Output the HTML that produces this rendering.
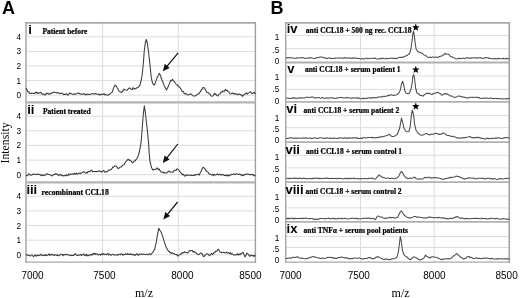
<!DOCTYPE html>
<html><head><meta charset="utf-8"><style>
html,body{margin:0;padding:0;background:#fff;width:520px;height:298px;overflow:hidden;}
svg{display:block;will-change:transform;}
</style></head><body>
<svg width="520" height="298" viewBox="0 0 520 298">
<rect width="520" height="298" fill="#fff"/>
<line x1="26.0" y1="36.8" x2="255.4" y2="36.8" stroke="#dcdcdc" stroke-width="1"/>
<line x1="26.0" y1="51.4" x2="255.4" y2="51.4" stroke="#dcdcdc" stroke-width="1"/>
<line x1="26.0" y1="66.0" x2="255.4" y2="66.0" stroke="#dcdcdc" stroke-width="1"/>
<line x1="26.0" y1="80.6" x2="255.4" y2="80.6" stroke="#dcdcdc" stroke-width="1"/>
<line x1="26.0" y1="95.2" x2="255.4" y2="95.2" stroke="#dcdcdc" stroke-width="1"/>
<line x1="26.0" y1="116.2" x2="255.4" y2="116.2" stroke="#dcdcdc" stroke-width="1"/>
<line x1="26.0" y1="130.8" x2="255.4" y2="130.8" stroke="#dcdcdc" stroke-width="1"/>
<line x1="26.0" y1="145.4" x2="255.4" y2="145.4" stroke="#dcdcdc" stroke-width="1"/>
<line x1="26.0" y1="160.1" x2="255.4" y2="160.1" stroke="#dcdcdc" stroke-width="1"/>
<line x1="26.0" y1="174.7" x2="255.4" y2="174.7" stroke="#dcdcdc" stroke-width="1"/>
<line x1="26.0" y1="196.3" x2="255.4" y2="196.3" stroke="#dcdcdc" stroke-width="1"/>
<line x1="26.0" y1="210.9" x2="255.4" y2="210.9" stroke="#dcdcdc" stroke-width="1"/>
<line x1="26.0" y1="225.5" x2="255.4" y2="225.5" stroke="#dcdcdc" stroke-width="1"/>
<line x1="26.0" y1="240.2" x2="255.4" y2="240.2" stroke="#dcdcdc" stroke-width="1"/>
<line x1="26.0" y1="254.8" x2="255.4" y2="254.8" stroke="#dcdcdc" stroke-width="1"/>
<line x1="102.6" y1="22.85" x2="102.6" y2="262.2" stroke="#dcdcdc" stroke-width="1"/>
<line x1="178.3" y1="22.85" x2="178.3" y2="262.2" stroke="#dcdcdc" stroke-width="1"/>
<line x1="285.7" y1="35.6" x2="509.3" y2="35.6" stroke="#dcdcdc" stroke-width="1"/>
<line x1="285.7" y1="48.7" x2="509.3" y2="48.7" stroke="#dcdcdc" stroke-width="1"/>
<line x1="285.7" y1="76.0" x2="509.3" y2="76.0" stroke="#dcdcdc" stroke-width="1"/>
<line x1="285.7" y1="89.4" x2="509.3" y2="89.4" stroke="#dcdcdc" stroke-width="1"/>
<line x1="285.7" y1="115.6" x2="509.3" y2="115.6" stroke="#dcdcdc" stroke-width="1"/>
<line x1="285.7" y1="127.7" x2="509.3" y2="127.7" stroke="#dcdcdc" stroke-width="1"/>
<line x1="285.7" y1="155.3" x2="509.3" y2="155.3" stroke="#dcdcdc" stroke-width="1"/>
<line x1="285.7" y1="167.9" x2="509.3" y2="167.9" stroke="#dcdcdc" stroke-width="1"/>
<line x1="285.7" y1="196.1" x2="509.3" y2="196.1" stroke="#dcdcdc" stroke-width="1"/>
<line x1="285.7" y1="207.9" x2="509.3" y2="207.9" stroke="#dcdcdc" stroke-width="1"/>
<line x1="285.7" y1="236.5" x2="509.3" y2="236.5" stroke="#dcdcdc" stroke-width="1"/>
<line x1="285.7" y1="247.5" x2="509.3" y2="247.5" stroke="#dcdcdc" stroke-width="1"/>
<line x1="360.5" y1="22.85" x2="360.5" y2="262.2" stroke="#dcdcdc" stroke-width="1"/>
<line x1="434.2" y1="22.85" x2="434.2" y2="262.2" stroke="#dcdcdc" stroke-width="1"/>
<rect x="25" y="22" width="2" height="240.8" fill="#bcbcbc"/>
<line x1="25" y1="22.85" x2="255.4" y2="22.85" stroke="#a8a8a8" stroke-width="1.6"/>
<line x1="255.4" y1="22" x2="255.4" y2="262.8" stroke="#a0a0a0" stroke-width="1.4"/>
<line x1="25" y1="262.2" x2="255.4" y2="262.2" stroke="#a8a8a8" stroke-width="1.2"/>
<line x1="27" y1="102.3" x2="255.4" y2="102.3" stroke="#b4b4b4" stroke-width="2.2"/>
<line x1="27" y1="182.4" x2="255.4" y2="182.4" stroke="#b4b4b4" stroke-width="2.2"/>
<line x1="285.7" y1="22" x2="285.7" y2="262.8" stroke="#a4a4a4" stroke-width="1.4"/>
<line x1="509.3" y1="22" x2="509.3" y2="262.8" stroke="#a0a0a0" stroke-width="1.6"/>
<line x1="285.7" y1="22.85" x2="509.3" y2="22.85" stroke="#a8a8a8" stroke-width="1.6"/>
<line x1="285.7" y1="262.2" x2="509.3" y2="262.2" stroke="#a8a8a8" stroke-width="1.2"/>
<line x1="285.7" y1="62.5" x2="509.3" y2="62.5" stroke="#b0b0b0" stroke-width="1.8"/>
<line x1="285.7" y1="101.9" x2="509.3" y2="101.9" stroke="#b0b0b0" stroke-width="1.8"/>
<line x1="285.7" y1="142.2" x2="509.3" y2="142.2" stroke="#b0b0b0" stroke-width="1.8"/>
<line x1="285.7" y1="182.2" x2="509.3" y2="182.2" stroke="#b0b0b0" stroke-width="1.8"/>
<line x1="285.7" y1="221.9" x2="509.3" y2="221.9" stroke="#b0b0b0" stroke-width="1.8"/>
<path d="M26.0,88.0 L27.0,90.0 L28.0,92.0 L28.8,91.7 L29.5,93.4 L30.2,93.6 L31.0,93.5 L31.7,93.0 L32.4,93.3 L33.1,93.2 L33.9,93.5 L34.6,93.7 L35.3,92.3 L36.0,93.0 L36.8,92.1 L37.6,93.6 L38.4,92.8 L39.2,93.3 L40.0,92.8 L40.8,92.2 L41.5,93.4 L42.2,94.3 L43.0,94.3 L43.8,93.7 L44.6,95.0 L45.4,94.9 L46.2,93.2 L47.0,94.0 L47.8,93.0 L48.6,93.9 L49.4,94.5 L50.2,93.4 L51.0,93.5 L51.8,92.8 L52.6,93.0 L53.4,92.0 L54.2,92.2 L55.0,92.5 L55.8,92.6 L56.6,92.9 L57.4,92.6 L58.2,92.8 L59.0,93.5 L59.8,93.1 L60.6,93.6 L61.4,93.4 L62.2,93.0 L63.0,94.0 L63.8,94.7 L64.6,94.2 L65.4,94.5 L66.2,93.6 L67.0,94.3 L67.8,95.1 L68.6,94.7 L69.4,93.1 L70.2,93.3 L71.0,93.5 L71.8,94.0 L72.6,94.1 L73.4,94.6 L74.2,93.8 L75.0,94.0 L75.8,94.4 L76.6,93.9 L77.4,93.0 L78.2,93.4 L79.0,93.0 L79.8,94.0 L80.6,94.2 L81.4,93.8 L82.2,94.2 L83.0,94.3 L83.8,93.5 L84.6,93.9 L85.4,95.0 L86.2,94.4 L87.0,94.6 L87.8,93.9 L88.6,94.5 L89.4,94.6 L90.2,94.5 L91.0,94.0 L91.8,93.7 L92.6,93.7 L93.4,93.7 L94.2,94.1 L95.0,93.5 L95.8,93.8 L96.5,93.8 L97.2,94.2 L98.0,94.5 L99.0,94.0 L100.0,95.2 L101.0,94.0 L102.0,94.6 L103.0,94.5 L104.0,93.6 L105.0,95.0 L106.0,94.6 L107.0,95.1 L108.0,95.2 L109.0,94.5 L110.0,94.3 L111.0,92.8 L112.0,92.6 L112.8,90.3 L113.5,88.1 L114.2,86.6 L115.0,85.1 L115.8,85.9 L116.5,86.6 L117.2,87.8 L118.0,89.1 L119.0,91.3 L120.0,91.6 L121.0,92.4 L122.0,92.1 L123.0,90.6 L124.0,89.1 L125.0,89.7 L126.0,90.1 L127.0,90.3 L128.0,89.1 L129.0,88.1 L130.0,88.1 L130.8,88.9 L131.5,89.6 L132.2,89.5 L133.0,87.6 L133.8,88.5 L134.5,89.1 L135.2,88.8 L136.0,88.6 L137.0,87.7 L138.0,87.6 L139.0,86.4 L140.0,85.1 L141.0,81.1 L142.0,76.0 L142.8,69.0 L143.6,60.0 L144.3,50.5 L145.3,43.0 L146.3,39.4 L147.2,42.5 L148.4,50.5 L149.3,59.0 L150.2,67.0 L151.2,77.0 L152.3,82.5 L153.7,85.1 L154.5,84.8 L155.3,82.8 L156.2,80.4 L157.0,78.0 L157.7,76.4 L158.5,74.9 L159.2,73.3 L160.5,75.5 L161.2,77.8 L162.0,80.0 L163.0,82.5 L164.0,85.1 L164.8,86.8 L165.7,88.4 L166.5,90.1 L167.2,88.6 L168.0,87.1 L169.0,84.6 L170.0,82.1 L170.8,80.2 L171.7,80.8 L172.5,79.3 L173.5,81.1 L174.5,81.6 L175.3,83.3 L176.2,84.1 L177.0,84.6 L177.8,85.9 L178.5,86.1 L179.2,87.0 L180.0,87.6 L181.0,89.3 L182.0,91.1 L182.8,91.6 L183.5,91.5 L184.2,93.7 L185.0,93.6 L185.8,94.1 L186.5,93.7 L187.2,94.7 L188.0,95.0 L188.8,94.7 L189.5,94.2 L190.2,94.0 L191.0,94.0 L192.0,94.9 L193.0,95.7 L194.0,96.1 L195.0,96.0 L196.0,95.5 L197.0,94.6 L198.0,94.0 L199.0,93.6 L200.0,92.1 L201.0,90.6 L202.0,89.1 L203.0,87.6 L204.0,87.5 L205.0,89.1 L206.0,90.8 L207.0,92.6 L207.8,92.5 L208.5,92.7 L209.2,93.9 L210.0,94.1 L211.0,95.9 L212.0,96.4 L212.8,95.9 L213.7,94.9 L214.5,93.3 L215.2,94.4 L215.9,93.9 L216.6,95.6 L217.3,95.8 L218.0,96.0 L219.0,94.2 L220.0,94.0 L221.0,92.1 L222.0,92.1 L223.0,90.9 L224.0,91.6 L224.8,90.4 L225.5,89.2 L226.3,90.5 L227.2,90.3 L228.0,91.6 L228.8,91.7 L229.7,93.4 L230.5,94.0 L231.3,93.6 L232.2,93.0 L233.0,93.7 L233.8,93.2 L234.5,94.1 L235.2,93.5 L236.0,94.3 L236.8,93.9 L237.6,94.7 L238.4,94.2 L239.2,94.0 L240.0,94.3 L240.8,95.0 L241.7,94.8 L242.5,96.4 L243.3,95.4 L244.2,94.6 L245.0,94.0 L245.8,93.2 L246.5,92.9 L247.2,94.2 L248.0,93.3 L249.0,92.6 L250.0,91.8 L251.0,92.2 L252.0,93.7 L253.0,93.1 L254.0,92.1 L254.8,93.4 L255.5,93.5" fill="none" stroke="#3a3a3a" stroke-width="1.05" stroke-linejoin="round"/>
<path d="M26.0,174.9 L26.8,175.7 L27.6,175.7 L28.4,173.9 L29.2,174.0 L30.0,174.7 L30.8,175.2 L31.6,174.9 L32.4,174.7 L33.2,173.9 L34.0,174.2 L34.8,174.5 L35.6,174.5 L36.4,174.5 L37.2,173.8 L38.0,174.5 L38.8,174.4 L39.6,174.4 L40.4,175.0 L41.2,175.6 L42.0,174.7 L42.8,175.7 L43.5,175.1 L44.2,175.1 L45.0,175.4 L45.8,174.7 L46.5,173.9 L47.2,173.6 L48.0,174.2 L48.8,174.4 L49.5,174.5 L50.2,174.9 L51.0,175.4 L51.8,176.0 L52.6,175.1 L53.4,175.0 L54.2,174.2 L55.0,174.5 L55.7,173.6 L56.4,174.2 L57.1,173.9 L57.9,174.6 L58.6,175.6 L59.3,175.0 L60.0,174.7 L60.7,174.2 L61.4,175.6 L62.1,175.6 L62.9,175.5 L63.6,176.0 L64.3,175.8 L65.0,175.4 L65.7,175.8 L66.4,174.8 L67.1,175.8 L67.9,175.6 L68.6,173.9 L69.3,174.9 L70.0,174.2 L70.7,174.5 L71.4,173.9 L72.1,174.0 L72.9,173.8 L73.6,174.5 L74.3,173.6 L75.0,173.5 L75.7,174.1 L76.4,173.1 L77.1,174.1 L77.9,174.0 L78.6,173.1 L79.3,173.3 L80.0,173.1 L80.8,173.6 L81.5,173.0 L82.2,172.3 L83.0,172.1 L83.8,171.8 L84.5,172.3 L85.2,173.2 L86.0,173.1 L86.8,172.0 L87.5,173.0 L88.2,171.4 L89.0,171.4 L90.0,171.6 L91.0,170.2 L91.8,170.1 L92.5,171.7 L93.2,171.5 L94.0,171.4 L94.8,171.4 L95.5,171.4 L96.2,171.7 L97.0,171.4 L97.8,171.6 L98.5,171.0 L99.2,170.8 L100.0,171.4 L100.8,171.3 L101.5,172.1 L102.2,171.4 L103.0,171.1 L103.8,170.4 L104.5,172.0 L105.2,171.9 L106.0,171.6 L107.0,172.0 L108.0,170.9 L109.0,169.8 L110.0,169.9 L111.0,169.7 L112.0,168.6 L112.8,166.9 L113.7,167.2 L114.5,166.1 L115.3,166.0 L116.2,166.2 L117.0,167.1 L118.0,168.4 L119.0,168.3 L120.0,167.0 L121.0,167.1 L122.0,166.1 L123.0,165.1 L124.0,164.8 L125.0,163.1 L126.0,161.4 L127.0,160.6 L127.8,159.4 L128.5,159.3 L129.2,160.4 L130.0,160.1 L130.8,160.9 L131.5,161.9 L132.2,162.7 L133.0,162.6 L134.0,161.0 L135.0,161.1 L136.0,159.6 L137.0,158.6 L137.8,156.8 L138.5,155.0 L139.5,151.0 L140.5,146.0 L141.3,140.0 L142.2,128.8 L143.2,115.0 L144.3,105.8 L145.5,114.0 L146.2,120.5 L147.0,127.0 L148.0,137.0 L148.6,143.0 L149.2,153.4 L150.0,161.5 L150.8,164.6 L151.5,167.6 L152.2,168.9 L153.0,170.2 L154.0,169.3 L155.0,169.6 L155.8,169.5 L156.7,167.9 L157.5,168.2 L158.3,169.9 L159.2,168.9 L160.0,170.6 L161.0,171.9 L162.0,172.3 L163.0,171.9 L164.0,173.3 L165.0,172.6 L166.0,172.9 L167.0,172.8 L168.0,171.6 L168.8,171.0 L169.5,171.2 L170.2,172.3 L171.0,172.0 L172.0,171.9 L173.0,172.3 L174.0,170.4 L175.0,170.2 L176.0,170.5 L177.0,168.9 L177.8,169.1 L178.7,169.8 L179.5,171.6 L180.3,172.0 L181.2,173.3 L182.0,173.8 L182.8,174.9 L183.5,174.3 L184.2,175.4 L185.0,176.3 L185.8,175.0 L186.5,175.4 L187.2,175.5 L188.0,174.6 L188.8,175.1 L189.5,175.5 L190.2,175.3 L191.0,174.9 L191.8,175.7 L192.5,175.5 L193.2,175.2 L194.0,175.4 L194.8,174.7 L195.5,175.3 L196.2,174.5 L197.0,174.6 L198.0,174.1 L199.0,175.2 L200.0,173.3 L201.0,171.5 L202.0,169.3 L203.0,167.2 L204.0,167.9 L205.0,168.7 L206.0,170.8 L207.0,171.5 L207.8,171.7 L208.7,173.5 L209.5,174.2 L210.3,174.2 L211.2,174.7 L212.0,174.9 L212.8,174.2 L213.5,175.8 L214.2,174.4 L215.0,174.9 L215.8,175.0 L216.5,174.6 L217.2,173.8 L218.0,174.6 L218.8,174.9 L219.5,174.2 L220.2,174.2 L221.0,175.2 L221.8,174.4 L222.5,174.7 L223.2,174.6 L224.0,175.4 L224.8,175.5 L225.5,175.2 L226.2,175.9 L227.0,174.9 L227.8,175.8 L228.5,176.1 L229.2,174.8 L230.0,175.4 L230.8,175.0 L231.6,174.3 L232.4,174.6 L233.2,174.4 L234.0,173.8 L234.8,174.5 L235.6,174.4 L236.4,173.6 L237.2,174.0 L238.0,174.2 L238.8,174.5 L239.6,173.9 L240.4,174.2 L241.2,175.2 L242.0,175.7 L242.8,174.7 L243.6,175.7 L244.4,174.5 L245.2,174.1 L246.0,174.6 L246.8,174.0 L247.6,174.1 L248.4,174.1 L249.2,174.6 L250.0,174.6 L250.8,174.6 L251.6,174.4 L252.4,175.0 L253.1,174.3 L253.9,175.7 L254.7,175.8 L255.5,175.0" fill="none" stroke="#3a3a3a" stroke-width="1.05" stroke-linejoin="round"/>
<path d="M26.0,255.1 L26.8,254.7 L27.5,255.3 L28.2,255.0 L29.0,255.3 L29.8,255.7 L30.6,255.9 L31.4,255.0 L32.2,255.0 L33.0,256.1 L33.8,256.6 L34.6,255.3 L35.4,255.1 L36.2,256.3 L37.0,255.2 L37.7,255.1 L38.4,255.8 L39.1,255.0 L39.9,255.3 L40.6,254.3 L41.3,255.2 L42.0,254.9 L42.7,255.7 L43.4,255.1 L44.1,255.5 L44.9,255.5 L45.6,254.4 L46.3,255.7 L47.0,255.3 L47.7,255.3 L48.4,254.6 L49.1,253.9 L49.9,255.4 L50.6,254.5 L51.3,254.8 L52.0,254.2 L52.8,255.1 L53.6,254.9 L54.4,255.5 L55.2,254.6 L56.0,255.0 L56.8,255.6 L57.6,254.9 L58.4,255.8 L59.2,255.7 L60.0,255.0 L60.7,254.2 L61.4,254.2 L62.1,254.3 L62.9,255.7 L63.6,254.6 L64.3,254.9 L65.0,254.6 L65.7,254.3 L66.4,254.8 L67.1,254.6 L67.9,254.6 L68.6,255.1 L69.3,255.2 L70.0,255.1 L70.7,255.7 L71.4,255.2 L72.1,255.5 L72.9,255.3 L73.6,255.4 L74.3,254.7 L75.0,254.2 L75.7,253.7 L76.4,255.1 L77.1,255.4 L77.9,255.4 L78.6,254.8 L79.3,255.2 L80.0,254.9 L80.7,254.3 L81.4,255.5 L82.1,255.0 L82.9,254.4 L83.6,253.9 L84.3,255.4 L85.0,254.7 L85.8,255.8 L86.6,254.3 L87.4,255.9 L88.2,255.3 L89.0,255.7 L89.8,254.7 L90.5,254.6 L91.2,255.1 L92.0,254.2 L92.7,254.9 L93.4,253.3 L94.1,254.3 L94.9,253.2 L95.6,254.5 L96.3,253.7 L97.0,254.0 L97.8,254.8 L98.5,255.0 L99.2,254.2 L100.0,254.2 L100.7,255.2 L101.4,254.0 L102.1,253.6 L102.9,254.6 L103.6,253.6 L104.3,254.0 L105.0,254.6 L105.7,254.4 L106.4,254.7 L107.1,253.8 L107.9,253.6 L108.6,255.1 L109.3,254.0 L110.0,254.3 L110.7,255.2 L111.4,255.2 L112.1,254.3 L112.9,254.5 L113.6,254.7 L114.3,255.0 L115.0,254.8 L115.7,254.9 L116.4,254.7 L117.1,254.8 L117.9,255.3 L118.6,254.4 L119.3,254.2 L120.0,254.2 L120.7,254.7 L121.4,253.8 L122.1,254.0 L122.9,255.3 L123.6,254.5 L124.3,254.5 L125.0,254.5 L125.7,253.5 L126.4,254.3 L127.1,254.5 L127.9,253.4 L128.6,254.5 L129.3,254.5 L130.0,254.2 L130.7,253.5 L131.4,254.6 L132.1,254.4 L132.9,254.9 L133.6,254.4 L134.3,255.2 L135.0,254.9 L135.7,255.3 L136.4,253.8 L137.1,253.8 L137.9,254.9 L138.6,255.4 L139.3,253.9 L140.0,254.3 L140.7,254.2 L141.4,254.5 L142.1,254.0 L142.9,254.2 L143.6,254.1 L144.3,254.2 L145.0,254.5 L145.8,254.7 L146.6,254.1 L147.4,254.2 L148.2,254.9 L149.0,254.4 L149.9,253.6 L150.8,254.6 L151.6,253.8 L152.3,252.8 L153.1,252.2 L153.8,250.4 L154.6,249.7 L155.3,246.6 L156.0,243.5 L156.8,238.9 L157.5,234.3 L158.8,228.2 L160.0,230.5 L160.8,231.7 L161.5,232.8 L162.2,235.1 L163.0,237.4 L163.8,240.1 L164.6,242.8 L165.4,245.1 L166.2,247.4 L167.0,248.7 L167.7,249.9 L168.5,251.2 L169.2,251.2 L170.0,252.9 L170.8,252.4 L171.5,253.5 L172.3,252.9 L173.2,253.4 L174.0,253.5 L175.0,254.4 L176.0,254.6 L177.0,254.6 L178.0,256.2 L179.0,255.1 L180.0,254.6 L180.8,253.7 L181.5,254.1 L182.2,252.8 L183.0,252.3 L183.8,253.0 L184.6,251.8 L185.4,252.2 L186.2,252.8 L187.0,252.6 L187.8,253.0 L188.5,251.8 L189.2,251.0 L190.0,250.5 L190.8,250.9 L191.5,250.5 L192.2,250.3 L192.9,251.8 L193.6,252.2 L194.3,251.3 L195.0,252.3 L195.8,252.3 L196.6,253.8 L197.4,253.9 L198.2,254.7 L199.0,254.6 L200.0,253.5 L201.0,253.0 L201.8,253.2 L202.5,254.4 L203.2,256.3 L204.0,256.6 L204.8,255.5 L205.5,254.9 L206.2,254.3 L207.0,253.8 L207.8,254.0 L208.5,254.4 L209.2,255.8 L210.0,255.4 L210.8,254.2 L211.6,253.3 L212.4,254.6 L213.2,253.9 L214.0,252.6 L214.8,252.8 L215.6,251.1 L216.4,251.4 L217.2,250.7 L218.0,249.2 L218.8,249.4 L219.5,251.2 L220.2,252.2 L221.0,252.3 L221.8,252.7 L222.6,252.6 L223.4,252.3 L224.2,252.6 L225.0,253.0 L225.8,252.5 L226.6,252.2 L227.4,253.2 L228.2,252.6 L229.0,253.0 L229.8,253.8 L230.5,252.5 L231.2,254.4 L232.0,253.8 L232.8,254.3 L233.6,254.9 L234.4,255.0 L235.2,255.2 L236.0,254.6 L236.8,254.7 L237.6,253.7 L238.4,255.1 L239.2,254.0 L240.0,254.6 L240.8,253.6 L241.5,253.8 L242.2,252.9 L243.0,252.3 L244.0,254.6 L245.0,256.9 L246.0,254.9 L247.0,253.0 L248.0,254.0 L249.0,255.4 L249.8,256.3 L250.5,255.8 L251.2,255.3 L252.0,255.7 L252.7,255.2 L253.4,256.3 L254.1,255.5 L254.8,256.0 L255.5,255.4" fill="none" stroke="#3a3a3a" stroke-width="1.05" stroke-linejoin="round"/>
<path d="M286.0,58.0 L287.0,57.7 L288.0,57.6 L289.0,57.9 L290.0,57.7 L291.0,57.6 L292.0,58.0 L293.0,57.9 L294.0,58.4 L295.0,58.3 L296.0,58.3 L297.0,57.7 L298.0,58.0 L299.0,58.0 L300.0,57.8 L301.0,57.7 L302.0,57.6 L303.0,57.7 L304.0,58.0 L305.0,58.4 L306.0,58.3 L307.0,58.3 L308.0,58.3 L309.0,57.7 L310.0,58.0 L311.0,57.8 L312.0,58.1 L313.0,58.2 L314.0,58.4 L315.0,58.4 L316.0,58.0 L317.0,57.4 L318.0,57.7 L319.0,57.5 L320.0,57.1 L321.0,56.9 L322.0,56.9 L323.0,57.6 L324.0,58.0 L325.0,57.6 L326.0,58.5 L327.0,58.4 L328.0,58.1 L329.0,57.9 L330.0,58.1 L331.0,58.5 L332.0,58.2 L333.0,58.5 L334.0,58.4 L335.0,58.1 L336.0,58.1 L337.0,58.0 L338.0,58.2 L339.0,58.0 L340.0,57.8 L341.0,57.9 L342.0,58.1 L343.0,58.4 L344.0,57.6 L345.0,57.6 L346.0,58.2 L347.0,57.9 L348.0,58.1 L349.0,58.1 L350.0,58.1 L351.0,57.9 L352.0,58.6 L353.0,57.8 L354.0,58.1 L355.0,58.1 L356.0,58.0 L357.0,58.6 L358.0,58.3 L359.0,58.5 L360.0,58.8 L361.0,59.0 L362.0,58.6 L363.0,58.8 L364.0,59.1 L365.0,58.3 L366.0,58.2 L367.0,58.3 L368.0,58.8 L369.0,58.6 L370.0,58.5 L371.0,58.2 L372.0,58.3 L373.0,58.2 L374.0,58.5 L375.0,58.0 L376.0,58.7 L377.0,58.9 L378.0,59.0 L379.0,58.7 L380.0,58.5 L381.0,58.9 L382.0,58.0 L383.0,58.2 L384.0,58.9 L385.0,58.7 L386.0,58.3 L387.0,58.8 L388.0,58.5 L389.0,58.6 L390.0,58.3 L391.0,58.2 L392.0,58.1 L393.0,58.4 L394.0,58.2 L395.0,58.6 L396.0,58.3 L397.0,58.7 L398.0,57.9 L399.0,57.4 L400.0,57.3 L401.0,57.6 L402.0,57.0 L403.0,57.4 L404.0,56.8 L405.0,56.3 L406.1,55.8 L407.1,55.6 L408.3,54.3 L409.5,53.8 L410.9,49.0 L411.9,41.7 L412.9,33.2 L413.5,31.4 L414.3,35.7 L415.3,44.1 L416.1,49.0 L417.3,51.1 L418.3,52.1 L419.4,52.0 L420.4,52.6 L421.6,53.1 L422.8,53.8 L424.0,55.0 L425.2,55.3 L426.4,56.1 L427.6,57.2 L428.8,57.5 L430.0,57.1 L431.2,57.6 L432.6,56.9 L434.0,57.2 L435.0,57.2 L436.0,57.0 L437.0,57.3 L438.0,57.5 L439.0,56.4 L440.0,56.5 L441.0,56.1 L442.0,56.0 L443.0,55.3 L444.0,54.3 L445.0,53.5 L446.0,54.2 L447.0,53.9 L448.0,54.1 L449.0,54.7 L450.0,55.8 L451.0,56.8 L452.0,56.7 L453.0,57.5 L454.0,57.7 L455.0,58.4 L456.0,58.8 L457.0,58.9 L458.0,58.6 L459.0,58.2 L460.0,58.7 L461.0,58.4 L462.0,58.3 L463.0,58.2 L464.0,58.1 L465.0,58.6 L466.0,57.8 L467.0,58.1 L468.0,57.6 L469.0,58.4 L470.0,58.0 L471.0,58.3 L472.0,57.6 L473.0,58.1 L474.0,57.6 L475.0,57.8 L476.0,58.1 L477.0,58.1 L478.0,57.9 L479.0,57.6 L480.0,58.1 L481.0,57.7 L482.0,58.3 L483.0,58.3 L484.0,58.2 L485.0,57.6 L486.0,57.8 L487.0,57.6 L488.0,58.1 L489.0,58.1 L490.0,58.5 L491.0,58.4 L492.0,58.7 L493.0,58.7 L494.0,58.8 L495.0,58.4 L496.0,59.0 L497.0,59.0 L498.0,58.1 L499.0,58.9 L500.0,58.4 L501.0,58.9 L502.0,58.7 L503.0,58.1 L504.0,59.0 L505.0,58.7 L506.1,58.3 L507.2,59.0 L508.4,58.6 L509.5,58.4" fill="none" stroke="#4a4a4a" stroke-width="1.05" stroke-linejoin="round"/>
<path d="M286.0,98.0 L287.0,98.1 L288.0,98.2 L289.0,98.3 L290.0,98.4 L291.0,98.2 L292.0,98.0 L293.0,98.4 L294.0,97.5 L295.0,98.0 L296.0,98.4 L297.0,98.1 L298.0,98.0 L299.0,98.4 L300.0,97.6 L301.0,98.0 L302.0,97.7 L303.0,98.0 L304.0,98.0 L305.1,97.9 L306.2,97.2 L307.3,97.2 L308.4,97.2 L309.5,97.6 L310.6,97.3 L311.7,96.9 L312.8,96.9 L313.9,97.9 L315.0,98.0 L316.0,97.6 L317.0,98.1 L318.0,97.6 L319.0,97.4 L320.0,97.9 L321.0,98.3 L322.0,97.6 L323.0,97.6 L324.0,98.4 L325.0,98.3 L326.0,97.9 L327.0,97.7 L328.0,98.4 L329.0,97.9 L330.0,98.1 L331.0,97.6 L332.0,97.9 L333.0,98.3 L334.0,98.1 L335.0,98.4 L336.0,98.3 L337.0,97.7 L338.0,97.9 L339.0,97.8 L340.0,97.6 L341.0,97.5 L342.0,97.5 L343.0,97.7 L344.0,97.9 L345.0,98.0 L346.0,97.4 L347.0,98.1 L348.0,97.7 L349.0,97.7 L350.0,97.9 L351.0,98.2 L352.0,97.9 L353.0,97.7 L354.0,97.9 L355.0,98.1 L356.0,97.9 L357.0,97.6 L358.0,98.6 L359.0,97.8 L360.0,98.4 L361.0,98.7 L362.0,98.8 L363.0,98.0 L364.0,98.8 L365.0,98.5 L366.0,98.3 L367.0,98.4 L368.0,97.8 L369.0,97.7 L370.0,98.1 L371.0,97.7 L372.0,98.3 L373.0,97.4 L374.0,97.9 L375.0,97.5 L376.0,97.8 L377.0,97.7 L378.0,97.0 L379.0,96.9 L380.0,96.9 L381.0,96.8 L382.0,96.9 L383.0,96.1 L384.0,96.6 L385.0,96.2 L386.0,96.3 L387.0,96.1 L388.0,95.1 L389.0,95.8 L390.0,95.1 L391.0,94.7 L392.0,94.9 L393.0,95.2 L394.0,95.5 L395.0,94.9 L396.0,95.1 L397.4,94.4 L398.8,92.9 L400.1,90.8 L401.5,84.0 L402.6,81.2 L403.6,84.0 L404.8,90.8 L406.0,93.0 L407.5,93.8 L408.5,93.4 L409.5,93.0 L411.0,89.0 L412.0,84.0 L412.8,77.0 L413.6,74.5 L414.4,77.5 L415.1,83.0 L415.6,88.0 L417.0,93.0 L418.1,93.6 L419.2,94.5 L420.3,95.5 L421.6,95.5 L423.0,96.2 L424.0,95.0 L425.0,94.2 L426.0,93.9 L427.0,92.9 L428.0,93.7 L429.0,93.2 L430.0,93.4 L431.0,94.2 L432.0,94.5 L433.0,93.8 L434.0,93.4 L435.0,93.3 L436.0,92.7 L437.0,92.7 L438.0,92.2 L439.0,93.2 L440.0,93.5 L441.0,94.4 L442.0,95.3 L443.0,94.6 L444.0,93.7 L445.0,93.5 L446.0,94.2 L447.0,93.7 L448.0,94.5 L449.0,95.0 L450.0,95.9 L451.0,96.1 L452.0,96.0 L453.0,96.9 L454.0,97.4 L455.0,97.2 L456.0,97.0 L457.0,96.8 L458.0,96.1 L459.0,95.9 L460.0,96.4 L461.0,96.3 L462.0,96.8 L463.0,97.3 L464.0,97.0 L465.0,97.4 L466.0,97.6 L467.0,98.0 L468.0,97.8 L469.0,97.9 L470.0,97.3 L471.0,97.3 L472.0,97.2 L473.0,97.5 L474.0,97.3 L475.0,97.2 L476.0,97.4 L477.0,97.2 L478.0,97.6 L479.0,97.6 L480.0,98.3 L481.0,98.4 L482.0,98.2 L483.0,98.2 L484.0,98.1 L485.0,98.4 L486.0,97.9 L487.0,98.1 L488.0,98.5 L489.0,98.5 L490.0,98.1 L491.0,98.0 L492.0,98.5 L493.0,98.6 L494.0,98.5 L495.0,98.4 L496.0,98.6 L497.0,98.8 L498.0,98.4 L499.0,98.8 L500.0,98.7 L501.0,98.5 L502.0,98.7 L503.0,99.0 L504.0,98.9 L505.0,98.7 L506.1,98.4 L507.2,99.0 L508.4,98.6 L509.5,98.4" fill="none" stroke="#4a4a4a" stroke-width="1.05" stroke-linejoin="round"/>
<path d="M286.0,138.1 L287.0,138.4 L288.0,138.4 L289.0,138.1 L290.0,137.9 L291.0,137.6 L292.0,138.1 L293.0,138.3 L294.0,138.1 L295.0,138.4 L296.0,138.0 L297.0,138.4 L298.0,138.1 L299.0,137.9 L300.0,138.4 L301.0,138.3 L302.0,138.0 L303.0,138.1 L304.0,138.1 L305.0,138.3 L306.0,137.8 L307.0,138.2 L308.0,138.4 L309.0,137.9 L310.0,138.1 L311.0,138.4 L312.0,138.3 L313.0,138.4 L314.0,137.9 L315.0,137.7 L316.0,138.1 L317.0,138.4 L318.0,138.4 L319.0,138.0 L320.0,137.7 L321.0,137.8 L322.0,138.1 L323.0,138.2 L324.0,137.9 L325.0,138.6 L326.0,138.2 L327.0,137.8 L328.0,138.1 L329.0,138.3 L330.0,138.0 L331.0,138.5 L332.0,138.5 L333.0,138.1 L334.0,138.1 L335.0,138.2 L336.0,138.3 L337.0,138.4 L338.0,138.6 L339.0,137.6 L340.0,138.1 L341.0,138.0 L342.0,138.2 L343.0,137.9 L344.0,138.2 L345.0,137.7 L346.0,138.1 L347.0,138.5 L348.0,138.1 L349.0,137.7 L350.0,138.3 L351.0,137.9 L352.0,138.1 L353.0,137.8 L354.0,138.1 L355.0,137.7 L356.0,137.8 L357.0,138.5 L358.0,138.1 L359.0,138.5 L360.0,138.6 L361.0,138.0 L362.0,138.6 L363.0,137.6 L364.0,137.8 L365.0,137.8 L366.0,138.1 L367.0,137.8 L368.0,137.4 L369.0,137.4 L370.0,137.4 L371.0,137.4 L372.0,137.2 L373.0,138.2 L374.0,137.4 L375.0,137.9 L376.0,137.6 L377.0,137.7 L378.0,137.2 L379.0,137.6 L380.0,136.9 L381.0,136.5 L382.0,137.0 L383.0,136.8 L384.0,136.2 L385.4,136.0 L386.7,135.5 L387.9,135.2 L389.1,134.2 L390.2,135.1 L391.4,136.2 L392.5,136.5 L393.7,136.4 L394.8,136.0 L396.1,135.1 L397.4,134.2 L398.4,131.5 L399.5,128.8 L400.4,124.1 L401.5,118.1 L402.8,122.8 L403.9,128.2 L405.0,129.8 L406.2,131.5 L407.5,131.7 L408.9,131.5 L410.2,126.8 L411.1,117.4 L412.2,110.0 L413.6,114.7 L414.6,124.1 L416.0,130.2 L417.1,131.8 L418.3,133.5 L419.3,133.8 L420.3,134.9 L421.6,135.2 L423.0,135.1 L424.1,134.3 L425.2,133.9 L426.3,133.3 L427.4,134.2 L428.6,134.2 L429.7,135.1 L430.8,134.3 L431.9,134.1 L433.0,134.2 L434.4,133.8 L435.7,133.3 L436.9,133.6 L438.0,134.2 L439.0,134.1 L440.0,134.5 L441.0,134.0 L442.0,133.9 L443.0,133.0 L444.0,133.3 L445.0,133.9 L446.0,134.5 L447.0,135.3 L448.0,135.4 L449.0,135.5 L450.0,136.1 L451.0,136.2 L452.0,136.4 L453.0,136.3 L454.0,136.8 L455.0,137.0 L456.0,137.3 L457.0,138.1 L458.0,138.1 L459.0,137.8 L460.0,138.0 L461.0,138.2 L462.0,137.6 L463.0,138.0 L464.0,137.5 L465.0,137.7 L466.0,137.6 L467.0,137.1 L468.0,136.9 L469.0,136.8 L470.0,136.5 L471.0,137.2 L472.0,137.7 L473.0,137.5 L474.0,138.1 L475.0,137.5 L476.0,137.8 L477.0,137.3 L478.0,137.6 L479.0,137.3 L480.0,138.2 L481.0,137.8 L482.0,138.6 L483.0,138.4 L484.0,138.7 L485.0,139.1 L486.0,139.0 L487.0,138.1 L488.0,138.2 L489.0,138.9 L490.0,138.4 L491.0,138.5 L492.0,138.2 L493.0,138.5 L494.0,138.5 L495.0,138.1 L496.0,138.1 L497.0,138.1 L498.0,137.8 L499.0,138.1 L500.0,137.9 L501.0,138.5 L502.0,138.4 L503.0,138.3 L504.0,137.6 L505.0,137.9 L506.0,137.6 L507.2,137.5 L508.3,137.7 L509.5,138.4" fill="none" stroke="#4a4a4a" stroke-width="1.05" stroke-linejoin="round"/>
<path d="M286.0,178.5 L287.0,178.3 L288.0,178.2 L289.0,178.7 L290.0,178.1 L291.0,178.5 L292.0,178.5 L293.0,178.4 L294.0,178.1 L295.0,178.5 L296.0,178.0 L297.0,178.4 L298.0,178.5 L299.0,178.1 L300.0,178.1 L301.0,178.4 L302.0,178.8 L303.0,178.1 L304.0,178.5 L305.0,178.2 L306.0,178.6 L307.0,178.9 L308.0,178.6 L309.0,178.4 L310.0,178.5 L311.0,179.0 L312.0,178.0 L313.0,178.9 L314.0,178.3 L315.0,178.1 L316.0,178.5 L317.0,178.1 L318.0,178.3 L319.0,178.8 L320.0,178.2 L321.0,178.6 L322.0,178.5 L323.0,178.6 L324.0,178.4 L325.0,178.5 L326.0,178.1 L327.0,178.1 L328.0,178.5 L329.0,178.2 L330.0,178.7 L331.0,178.4 L332.0,178.3 L333.0,178.6 L334.0,178.5 L335.0,178.5 L336.0,178.3 L337.0,178.8 L338.0,178.7 L339.0,178.2 L340.0,178.5 L341.0,178.6 L342.0,178.5 L343.0,178.9 L344.0,178.7 L345.0,178.3 L346.0,178.5 L347.0,179.0 L348.0,178.1 L349.0,178.4 L350.0,178.8 L351.0,178.2 L352.0,178.5 L353.0,178.5 L354.0,178.0 L355.0,178.7 L356.0,178.8 L357.0,178.6 L358.0,178.5 L359.0,179.0 L360.0,178.7 L361.0,178.5 L362.0,178.8 L363.0,178.7 L364.0,178.6 L365.0,178.5 L366.0,178.4 L367.0,178.7 L368.0,178.8 L369.0,178.2 L370.0,178.2 L371.0,178.5 L372.0,178.0 L373.0,178.5 L374.2,179.0 L375.5,179.0 L377.0,177.1 L378.0,176.1 L379.0,174.8 L380.0,175.9 L381.0,176.1 L382.0,177.1 L383.0,177.5 L384.0,177.5 L385.0,177.9 L386.0,178.2 L387.0,178.4 L388.0,177.9 L389.0,178.4 L390.0,178.5 L391.0,178.2 L392.0,178.2 L393.0,178.2 L394.0,178.9 L395.0,178.7 L396.0,177.9 L397.0,177.9 L398.5,176.7 L400.0,173.6 L401.2,171.5 L402.5,172.7 L404.0,175.6 L405.0,176.5 L406.0,177.9 L407.0,178.0 L408.0,178.7 L409.0,178.5 L410.0,178.0 L411.0,178.2 L412.0,178.2 L413.2,177.7 L414.5,177.1 L416.0,178.5 L417.0,179.0 L418.0,179.1 L419.0,179.2 L420.0,179.0 L421.0,178.8 L422.0,178.9 L423.0,179.0 L424.0,178.0 L425.0,177.3 L426.0,177.7 L427.0,177.8 L428.0,177.3 L429.0,177.3 L430.0,177.9 L431.0,177.7 L432.0,178.1 L433.0,177.7 L434.0,177.6 L435.0,177.7 L436.0,177.6 L437.0,178.0 L438.0,177.9 L439.0,177.9 L440.0,178.6 L441.0,178.8 L442.0,179.2 L443.0,179.1 L444.0,179.3 L445.0,178.8 L446.0,178.5 L447.0,178.4 L448.0,178.1 L449.0,178.1 L450.0,177.2 L451.0,177.8 L452.0,177.2 L453.0,177.2 L454.0,177.0 L455.0,176.7 L456.0,176.1 L457.0,176.3 L458.0,176.5 L459.0,176.5 L460.0,177.2 L461.0,177.8 L462.0,177.8 L463.0,178.3 L464.0,179.2 L465.0,178.7 L466.0,178.5 L467.0,178.5 L468.0,178.0 L469.0,177.8 L470.0,178.1 L471.0,177.9 L472.0,177.9 L473.0,178.3 L474.0,178.0 L475.0,179.0 L476.0,178.7 L477.0,178.8 L478.0,178.2 L479.0,178.3 L480.0,178.3 L481.0,178.3 L482.0,178.4 L483.0,178.1 L484.0,178.8 L485.0,179.0 L486.0,178.5 L487.0,178.6 L488.0,178.2 L489.0,178.3 L490.0,178.7 L491.0,178.6 L492.0,178.6 L493.0,179.2 L494.0,178.6 L495.0,178.5 L496.0,179.5 L497.0,179.2 L498.0,179.2 L499.0,178.7 L500.0,179.0 L501.0,178.4 L502.0,178.8 L503.0,179.1 L504.0,178.9 L505.0,178.4 L506.1,178.6 L507.2,178.2 L508.4,178.3 L509.5,178.4" fill="none" stroke="#4a4a4a" stroke-width="1.05" stroke-linejoin="round"/>
<path d="M286.0,218.5 L287.0,218.2 L288.0,219.0 L289.0,218.1 L290.0,218.7 L291.0,218.1 L292.0,218.5 L293.0,218.2 L294.0,219.0 L295.0,218.2 L296.0,218.6 L297.0,218.5 L298.0,218.5 L299.0,218.5 L300.0,218.5 L301.0,218.2 L302.0,218.8 L303.0,218.1 L304.0,218.5 L305.0,218.2 L306.0,218.0 L307.0,218.3 L308.0,218.4 L309.0,218.9 L310.0,218.5 L311.0,218.5 L312.0,218.4 L313.0,218.7 L314.0,219.6 L315.0,218.8 L316.0,219.5 L317.0,219.5 L318.0,219.1 L319.0,219.1 L320.0,218.5 L321.0,218.4 L322.0,218.6 L323.0,218.4 L324.0,218.6 L325.0,218.9 L326.0,218.5 L327.0,218.6 L328.0,218.1 L329.0,218.1 L330.0,218.9 L331.0,218.5 L332.0,218.5 L333.0,218.2 L334.0,218.9 L335.0,218.6 L336.0,218.7 L337.0,218.9 L338.0,218.5 L339.0,218.3 L340.0,218.4 L341.0,218.9 L342.0,218.1 L343.0,218.8 L344.0,218.5 L345.0,218.1 L346.0,218.7 L347.0,218.7 L348.0,218.9 L349.0,218.8 L350.0,218.5 L351.0,218.5 L352.0,218.2 L353.0,218.2 L354.0,218.5 L355.0,218.5 L356.0,218.5 L357.0,218.1 L358.0,219.1 L359.0,218.7 L360.0,218.8 L361.0,218.9 L362.0,218.4 L363.0,218.4 L364.0,218.1 L365.0,218.5 L366.0,218.3 L367.0,218.1 L368.0,218.2 L369.0,218.1 L370.0,218.2 L371.0,218.7 L372.0,218.8 L373.0,218.3 L374.0,218.7 L375.5,219.6 L377.0,216.7 L378.0,215.9 L379.0,216.4 L380.0,217.1 L381.0,216.9 L382.0,217.3 L383.0,217.9 L384.0,218.2 L385.0,218.6 L386.0,217.8 L387.0,218.2 L388.0,217.9 L389.0,217.6 L390.0,217.2 L391.0,217.9 L392.0,217.5 L393.0,217.6 L394.0,217.6 L395.0,218.2 L396.2,217.8 L397.5,217.5 L399.0,214.4 L400.5,211.5 L401.5,211.0 L403.0,213.3 L404.5,215.6 L405.8,216.2 L407.0,217.3 L408.0,217.5 L409.0,217.8 L410.0,218.2 L411.0,217.8 L412.0,217.6 L413.0,217.1 L414.0,216.5 L415.0,216.4 L416.0,216.5 L417.0,217.5 L418.0,217.0 L419.0,217.0 L420.0,217.3 L421.0,217.5 L422.0,217.5 L423.0,218.1 L424.0,217.9 L425.0,217.8 L426.0,217.9 L427.0,218.1 L428.0,217.5 L429.0,217.1 L430.0,217.1 L431.0,217.2 L432.0,217.6 L433.0,217.5 L434.0,217.7 L435.0,217.8 L436.0,217.6 L437.0,217.5 L438.0,218.1 L439.0,217.1 L440.0,217.6 L441.0,218.1 L442.0,217.6 L443.0,218.4 L444.0,217.7 L445.0,218.3 L446.0,218.8 L447.0,218.6 L448.0,218.9 L449.0,218.5 L450.0,218.5 L451.0,218.1 L452.0,218.7 L453.0,218.1 L454.0,218.0 L455.1,217.1 L456.3,217.1 L457.4,216.5 L458.7,217.4 L460.0,218.3 L461.0,218.3 L462.0,218.1 L463.0,218.1 L464.0,218.6 L465.0,218.6 L466.0,218.7 L467.0,218.3 L468.0,218.6 L469.0,218.9 L470.0,218.8 L471.0,218.6 L472.0,218.5 L473.0,218.4 L474.0,218.2 L475.0,218.5 L476.0,218.2 L477.0,218.5 L478.0,218.2 L479.0,218.8 L480.0,218.8 L481.0,218.7 L482.0,218.2 L483.0,218.5 L484.0,218.6 L485.0,218.7 L486.0,218.3 L487.0,219.1 L488.0,218.9 L489.0,218.6 L490.0,218.8 L491.0,218.3 L492.0,218.3 L493.0,218.6 L494.0,218.8 L495.0,218.5 L496.0,218.7 L497.0,218.1 L498.0,218.7 L499.0,219.1 L500.0,218.9 L501.0,219.2 L502.0,219.3 L503.0,218.5 L504.0,218.7 L505.0,218.9 L506.1,219.0 L507.2,219.5 L508.4,219.0 L509.5,219.2" fill="none" stroke="#4a4a4a" stroke-width="1.05" stroke-linejoin="round"/>
<path d="M286.0,258.2 L287.0,258.5 L288.0,258.3 L289.0,258.1 L290.0,257.7 L291.0,258.3 L292.0,257.8 L293.1,257.1 L294.1,257.4 L295.2,257.5 L296.3,256.9 L297.5,256.8 L298.8,257.7 L300.0,258.0 L301.1,258.3 L302.2,257.9 L303.3,258.4 L304.4,258.8 L305.5,258.8 L306.6,258.5 L307.8,258.5 L308.9,257.7 L310.0,257.8 L311.0,257.2 L312.0,256.8 L313.0,256.8 L314.0,256.5 L315.0,257.3 L316.0,257.3 L317.0,257.6 L318.0,258.1 L319.0,257.9 L320.0,258.5 L321.0,258.5 L322.0,258.0 L323.0,258.1 L324.0,258.4 L325.0,258.3 L326.0,258.0 L327.0,257.8 L328.0,257.3 L329.0,257.4 L330.0,257.5 L331.0,257.3 L332.0,257.5 L333.0,258.2 L334.0,257.7 L335.0,258.5 L336.0,258.2 L337.1,258.4 L338.2,257.4 L339.2,257.6 L340.3,257.5 L341.4,256.9 L342.5,257.2 L343.5,257.4 L344.5,258.1 L345.6,257.5 L346.6,258.2 L347.6,258.0 L348.6,258.6 L349.7,258.6 L350.8,258.9 L351.9,258.2 L353.0,258.4 L354.2,257.9 L355.4,257.9 L356.6,258.3 L357.8,258.2 L358.9,257.9 L359.9,258.1 L360.9,258.6 L362.0,258.8 L363.0,259.2 L364.0,258.6 L365.0,258.5 L366.0,258.6 L367.0,258.4 L368.0,257.6 L369.0,257.8 L370.0,257.4 L371.0,257.8 L372.0,258.8 L373.0,258.6 L374.0,258.7 L375.0,258.0 L376.0,257.1 L377.0,257.1 L378.0,256.5 L379.0,257.3 L380.0,257.5 L381.0,258.5 L382.0,258.4 L383.0,259.3 L384.0,259.4 L385.0,259.1 L386.0,258.8 L387.0,259.5 L388.0,259.8 L389.0,259.2 L390.0,259.5 L391.0,259.4 L392.0,258.7 L393.0,258.8 L394.0,258.8 L395.0,258.4 L396.0,257.8 L397.0,257.1 L398.3,252.2 L399.3,244.7 L400.3,236.6 L401.3,241.2 L402.3,249.3 L403.5,253.9 L404.5,255.3 L405.5,256.2 L406.8,256.8 L408.0,258.3 L409.0,258.8 L410.0,259.7 L411.0,259.3 L412.0,258.3 L413.0,257.4 L414.0,256.8 L415.2,257.4 L416.5,258.0 L417.8,258.7 L419.0,259.5 L420.0,260.0 L421.0,259.6 L422.0,259.5 L423.0,258.3 L424.0,258.0 L425.5,255.1 L426.5,256.2 L427.5,256.8 L428.8,257.2 L430.0,258.0 L431.0,257.3 L432.0,256.8 L433.0,256.7 L434.0,257.1 L435.0,257.2 L436.0,257.3 L437.0,257.7 L438.0,257.8 L439.0,258.8 L440.0,258.8 L441.0,259.7 L442.0,259.8 L443.0,258.8 L444.0,259.3 L445.0,259.1 L446.0,258.6 L447.0,258.7 L448.0,259.0 L449.0,258.6 L450.0,258.9 L451.0,258.4 L452.0,257.3 L453.0,256.6 L454.2,255.3 L455.3,255.0 L456.5,253.5 L457.7,254.4 L458.8,255.4 L460.0,256.6 L461.0,257.6 L462.0,257.8 L463.0,258.7 L464.0,259.2 L465.0,258.2 L466.0,258.2 L467.0,257.0 L468.0,256.6 L469.0,256.4 L470.0,257.6 L471.0,257.1 L472.0,257.7 L473.0,258.3 L474.0,258.5 L475.0,258.3 L476.0,257.8 L477.0,258.0 L478.0,258.6 L479.0,258.2 L480.0,258.4 L481.0,258.5 L482.0,258.8 L483.0,258.1 L484.0,258.2 L485.0,257.9 L486.0,258.4 L487.0,258.0 L488.0,258.1 L489.0,258.6 L490.0,258.6 L491.0,258.8 L492.0,258.3 L493.0,258.7 L494.0,259.0 L495.0,259.1 L496.0,258.9 L497.0,258.7 L498.0,259.2 L499.0,258.4 L500.0,258.9 L501.0,258.9 L502.0,258.6 L503.0,259.1 L504.0,258.9 L505.0,258.6 L506.0,259.2 L507.2,258.6 L508.3,259.0 L509.5,258.9" fill="none" stroke="#4a4a4a" stroke-width="1.05" stroke-linejoin="round"/>
<line x1="178.2" y1="52.8" x2="166.7" y2="66.6" stroke="#111" stroke-width="1.2"/>
<polygon points="162.8,71.2 164.8,63.8 169.7,67.9" fill="#111"/>
<line x1="177.8" y1="144.0" x2="166.5" y2="158.3" stroke="#111" stroke-width="1.2"/>
<polygon points="162.8,163.0 164.6,155.5 169.6,159.5" fill="#111"/>
<line x1="177.6" y1="202.0" x2="167.1" y2="214.8" stroke="#111" stroke-width="1.2"/>
<polygon points="163.3,219.4 165.3,212.0 170.2,216.0" fill="#111"/>
<polygon points="415.80,23.60 416.79,26.24 419.60,26.36 417.40,28.12 418.15,30.84 415.80,29.28 413.45,30.84 414.20,28.12 412.00,26.36 414.81,26.24" fill="#000"/>
<polygon points="415.80,65.80 416.79,68.44 419.60,68.56 417.40,70.32 418.15,73.04 415.80,71.48 413.45,73.04 414.20,70.32 412.00,68.56 414.81,68.44" fill="#000"/>
<polygon points="415.80,102.40 416.79,105.04 419.60,105.16 417.40,106.92 418.15,109.64 415.80,108.08 413.45,109.64 414.20,106.92 412.00,105.16 414.81,105.04" fill="#000"/>
<text x="2.0" y="14.1" text-anchor="start" style="font-family:'Liberation Sans',sans-serif;font-weight:bold;font-size:18px" >A</text>
<text x="270.6" y="13.9" text-anchor="start" style="font-family:'Liberation Sans',sans-serif;font-weight:bold;font-size:18px" >B</text>
<text transform="translate(8.8,142.9) rotate(-90)" text-anchor="middle" style="font-family:'Liberation Serif',serif;font-size:11.8px">Intensity</text>
<text x="21.0" y="39.8" text-anchor="end" style="font-family:'Liberation Sans',sans-serif;font-size:8.2px" >4</text>
<text x="21.0" y="54.4" text-anchor="end" style="font-family:'Liberation Sans',sans-serif;font-size:8.2px" >3</text>
<text x="21.0" y="69.0" text-anchor="end" style="font-family:'Liberation Sans',sans-serif;font-size:8.2px" >2</text>
<text x="21.0" y="83.6" text-anchor="end" style="font-family:'Liberation Sans',sans-serif;font-size:8.2px" >1</text>
<text x="21.0" y="98.2" text-anchor="end" style="font-family:'Liberation Sans',sans-serif;font-size:8.2px" >0</text>
<text x="21.0" y="119.2" text-anchor="end" style="font-family:'Liberation Sans',sans-serif;font-size:8.2px" >4</text>
<text x="21.0" y="133.8" text-anchor="end" style="font-family:'Liberation Sans',sans-serif;font-size:8.2px" >3</text>
<text x="21.0" y="148.4" text-anchor="end" style="font-family:'Liberation Sans',sans-serif;font-size:8.2px" >2</text>
<text x="21.0" y="163.1" text-anchor="end" style="font-family:'Liberation Sans',sans-serif;font-size:8.2px" >1</text>
<text x="21.0" y="177.7" text-anchor="end" style="font-family:'Liberation Sans',sans-serif;font-size:8.2px" >0</text>
<text x="21.0" y="199.3" text-anchor="end" style="font-family:'Liberation Sans',sans-serif;font-size:8.2px" >4</text>
<text x="21.0" y="213.9" text-anchor="end" style="font-family:'Liberation Sans',sans-serif;font-size:8.2px" >3</text>
<text x="21.0" y="228.5" text-anchor="end" style="font-family:'Liberation Sans',sans-serif;font-size:8.2px" >2</text>
<text x="21.0" y="243.2" text-anchor="end" style="font-family:'Liberation Sans',sans-serif;font-size:8.2px" >1</text>
<text x="21.0" y="257.8" text-anchor="end" style="font-family:'Liberation Sans',sans-serif;font-size:8.2px" >0</text>
<text x="279.3" y="40.1" text-anchor="end" style="font-family:'Liberation Sans',sans-serif;font-size:8.2px" >1</text>
<text x="279.3" y="52.7" text-anchor="end" style="font-family:'Liberation Sans',sans-serif;font-size:8.2px" >.5</text>
<text x="279.3" y="64.1" text-anchor="end" style="font-family:'Liberation Sans',sans-serif;font-size:8.2px" >0</text>
<text x="279.3" y="80.1" text-anchor="end" style="font-family:'Liberation Sans',sans-serif;font-size:8.2px" >1</text>
<text x="279.3" y="92.2" text-anchor="end" style="font-family:'Liberation Sans',sans-serif;font-size:8.2px" >.5</text>
<text x="279.3" y="103.6" text-anchor="end" style="font-family:'Liberation Sans',sans-serif;font-size:8.2px" >0</text>
<text x="279.3" y="120.7" text-anchor="end" style="font-family:'Liberation Sans',sans-serif;font-size:8.2px" >1</text>
<text x="279.3" y="131.9" text-anchor="end" style="font-family:'Liberation Sans',sans-serif;font-size:8.2px" >.5</text>
<text x="279.3" y="143.4" text-anchor="end" style="font-family:'Liberation Sans',sans-serif;font-size:8.2px" >0</text>
<text x="279.3" y="159.9" text-anchor="end" style="font-family:'Liberation Sans',sans-serif;font-size:8.2px" >1</text>
<text x="279.3" y="172.1" text-anchor="end" style="font-family:'Liberation Sans',sans-serif;font-size:8.2px" >.5</text>
<text x="279.3" y="183.1" text-anchor="end" style="font-family:'Liberation Sans',sans-serif;font-size:8.2px" >0</text>
<text x="279.3" y="200.3" text-anchor="end" style="font-family:'Liberation Sans',sans-serif;font-size:8.2px" >1</text>
<text x="279.3" y="212.4" text-anchor="end" style="font-family:'Liberation Sans',sans-serif;font-size:8.2px" >.5</text>
<text x="279.3" y="223.1" text-anchor="end" style="font-family:'Liberation Sans',sans-serif;font-size:8.2px" >0</text>
<text x="279.3" y="240.6" text-anchor="end" style="font-family:'Liberation Sans',sans-serif;font-size:8.2px" >1</text>
<text x="279.3" y="252.4" text-anchor="end" style="font-family:'Liberation Sans',sans-serif;font-size:8.2px" >.5</text>
<text x="279.3" y="262.8" text-anchor="end" style="font-family:'Liberation Sans',sans-serif;font-size:8.2px" >0</text>
<text x="21.4" y="278.6" text-anchor="start" style="font-family:'Liberation Sans',sans-serif;font-size:10px" >7000</text>
<text x="93.30000000000001" y="278.6" text-anchor="start" style="font-family:'Liberation Sans',sans-serif;font-size:10px" >7500</text>
<text x="171.3" y="278.6" text-anchor="start" style="font-family:'Liberation Sans',sans-serif;font-size:10px" >8000</text>
<text x="239.3" y="278.6" text-anchor="start" style="font-family:'Liberation Sans',sans-serif;font-size:10px" >8500</text>
<text x="279.4" y="278.6" text-anchor="start" style="font-family:'Liberation Sans',sans-serif;font-size:10px" >7000</text>
<text x="347.7" y="278.6" text-anchor="start" style="font-family:'Liberation Sans',sans-serif;font-size:10px" >7500</text>
<text x="423.29999999999995" y="278.6" text-anchor="start" style="font-family:'Liberation Sans',sans-serif;font-size:10px" >8000</text>
<text x="495.5" y="278.6" text-anchor="start" style="font-family:'Liberation Sans',sans-serif;font-size:10px" >8500</text>
<text x="135.0" y="296.8" text-anchor="start" style="font-family:'Liberation Serif',serif;font-size:12px" >m/z</text>
<text x="391.6" y="296.8" text-anchor="start" style="font-family:'Liberation Serif',serif;font-size:12px" >m/z</text>
<text x="28.2" y="34.3" text-anchor="start" style="font-family:'Liberation Sans',sans-serif;font-weight:bold;font-size:13px" >i</text>
<text x="42.4" y="34.0" text-anchor="start" style="font-family:'Liberation Serif',serif;font-weight:bold;font-size:7.5px;stroke:#000;stroke-width:0.22px" >Patient before</text>
<text x="27.2" y="113.5" text-anchor="start" style="font-family:'Liberation Sans',sans-serif;font-weight:bold;font-size:13px" >ii</text>
<text x="43.0" y="113.8" text-anchor="start" style="font-family:'Liberation Serif',serif;font-weight:bold;font-size:7.5px;stroke:#000;stroke-width:0.22px" >Patient treated</text>
<text x="26.4" y="194.3" text-anchor="start" style="font-family:'Liberation Sans',sans-serif;font-weight:bold;font-size:13px" >iii</text>
<text x="41.6" y="194.5" text-anchor="start" style="font-family:'Liberation Serif',serif;font-weight:bold;font-size:7.65px;stroke:#000;stroke-width:0.22px" >recombinant CCL18</text>
<text x="286.7" y="33.0" text-anchor="start" style="font-family:'Liberation Sans',sans-serif;font-weight:bold;font-size:13px" >iv</text>
<text x="305.8" y="33.3" text-anchor="start" style="font-family:'Liberation Serif',serif;font-weight:bold;font-size:7.5px;stroke:#000;stroke-width:0.22px" >anti CCL18 + 500 ng rec. CCL18</text>
<text x="287.3" y="73.0" text-anchor="start" style="font-family:'Liberation Sans',sans-serif;font-weight:bold;font-size:13px" >v</text>
<text x="304.9" y="72.3" text-anchor="start" style="font-family:'Liberation Serif',serif;font-weight:bold;font-size:7.5px;stroke:#000;stroke-width:0.22px" >anti CCL18 + serum patient 1</text>
<text x="286.3" y="112.9" text-anchor="start" style="font-family:'Liberation Sans',sans-serif;font-weight:bold;font-size:13px" >vi</text>
<text x="303.5" y="112.8" text-anchor="start" style="font-family:'Liberation Serif',serif;font-weight:bold;font-size:7.5px;stroke:#000;stroke-width:0.22px" >anti CCL18 + serum patient 2</text>
<text x="285.5" y="153.9" text-anchor="start" style="font-family:'Liberation Sans',sans-serif;font-weight:bold;font-size:13px" >vii</text>
<text x="306.1" y="153.8" text-anchor="start" style="font-family:'Liberation Serif',serif;font-weight:bold;font-size:7.5px;stroke:#000;stroke-width:0.22px" >anti CCL18 + serum control 1</text>
<text x="285.5" y="193.6" text-anchor="start" style="font-family:'Liberation Sans',sans-serif;font-weight:bold;font-size:13px" >viii</text>
<text x="305.6" y="193.8" text-anchor="start" style="font-family:'Liberation Serif',serif;font-weight:bold;font-size:7.5px;stroke:#000;stroke-width:0.22px" >anti CCL18 + serum control 2</text>
<text x="286.6" y="233.0" text-anchor="start" style="font-family:'Liberation Sans',sans-serif;font-weight:bold;font-size:13px" >ix</text>
<text x="303.5" y="233.2" text-anchor="start" style="font-family:'Liberation Serif',serif;font-weight:bold;font-size:7.5px;stroke:#000;stroke-width:0.22px" >anti TNF&#945; + serum pool patients</text>
</svg>
</body></html>
